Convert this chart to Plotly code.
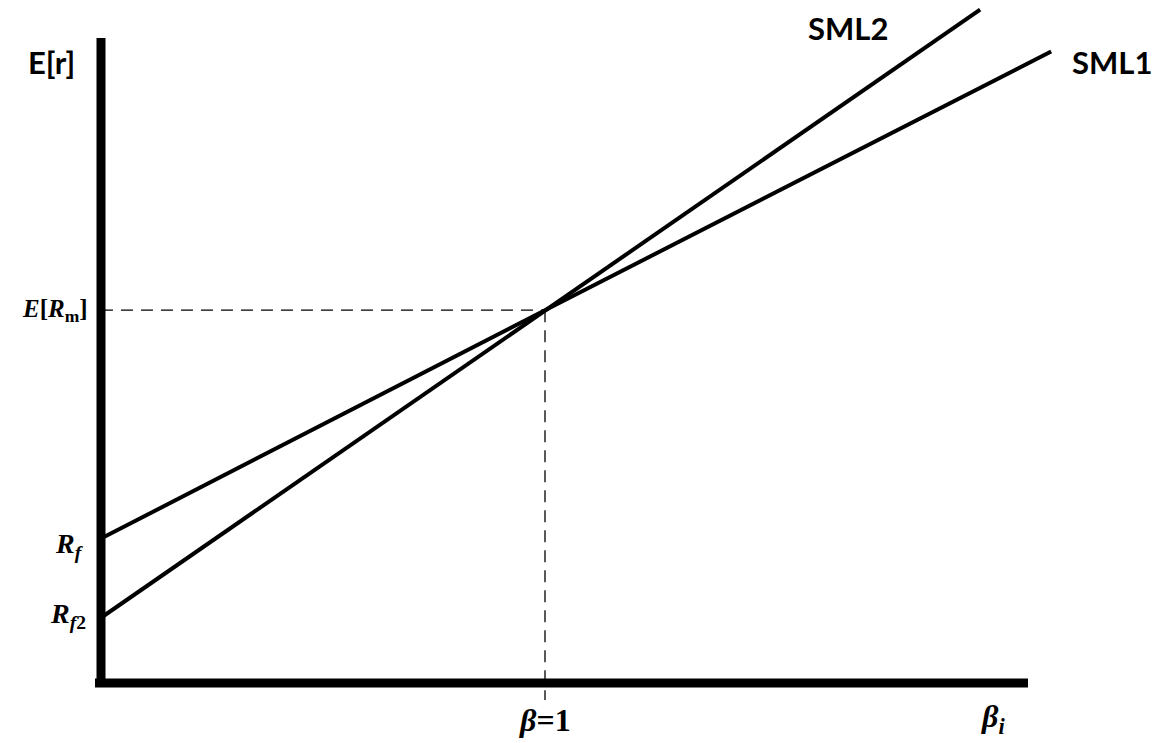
import plotly.graph_objects as go

# Data (beta, expected return)
sml1_beta = [0.0, 1.0, 2.14]
sml1_er = [3.1, 8.0, 13.55]
sml2_beta = [0.0, 1.0, 1.98]
sml2_er = [1.4, 8.0, 14.45]
beta_m = 1.0
er_m = 8.0
rf1 = 3.1
rf2 = 1.4

# page body has an 8px margin; the figure is placed at (8, 8)
OFF = 8
W, H = 1168 - OFF, 743 - OFF
x0px, pxx = 101 - OFF, 444.0
y0px, pxy = 683 - OFF, 46.6
xr = [-x0px / pxx, (W - x0px) / pxx]
yr = [-(H - y0px) / pxy, y0px / pxy]

def bx(px):
    return (px - OFF - x0px) / pxx

def by(py):
    return (y0px - (py - OFF)) / pxy

fig = go.Figure()

# dashed guides
fig.add_trace(go.Scatter(x=[0, beta_m], y=[er_m, er_m], mode="lines",
                         line=dict(color="black", width=1.3, dash="12px,8px"),
                         hoverinfo="skip", showlegend=False))
fig.add_trace(go.Scatter(x=[beta_m, beta_m], y=[er_m, by(700)], mode="lines",
                         line=dict(color="black", width=1.3, dash="12px,8px"),
                         hoverinfo="skip", showlegend=False))

# SML lines
fig.add_trace(go.Scatter(x=sml1_beta, y=sml1_er, mode="lines",
                         line=dict(color="black", width=4),
                         hoverinfo="skip", showlegend=False))
fig.add_trace(go.Scatter(x=sml2_beta, y=sml2_er, mode="lines",
                         line=dict(color="black", width=4),
                         hoverinfo="skip", showlegend=False))

# axis bars
fig.add_shape(type="line", x0=0, x1=0, y0=0, y1=by(38),
              line=dict(color="black", width=9))
fig.add_shape(type="line", x0=bx(95), x1=bx(1028), y0=0, y1=0,
              line=dict(color="black", width=9))

serif = "Liberation Serif"
sans = "Lato"

def ann(x, y, text, font, size, xanchor="center"):
    fig.add_annotation(x=x, y=y, text=text, showarrow=False, xanchor=xanchor,
                       yanchor="middle", font=dict(family=font, size=size, color="black"))

ann(bx(26), by(62), "<b>E[r]</b>", sans, 31, "left")
ann(bx(806), by(28), "<b>SML2</b>", sans, 31, "left")
ann(bx(1070), by(62), "<b>SML1</b>", sans, 31, "left")

ann(bx(90), er_m, "<b><i>E</i>[<i>R</i><sub>m</sub>]</b>", serif, 25, "right")
ann(bx(86), rf1 - 0.15, "<b><i>R</i><sub><i>f</i></sub></b>", serif, 28, "right")
ann(bx(88), rf2 + 0.05, "<b><i>R</i><sub><i>f</i>2</sub></b>", serif, 28, "right")
ann(beta_m, by(720), "<b><i>β</i>=1</b>", serif, 32, "center")
ann(bx(993), by(718), "<b><i>β</i><sub><i>i</i></sub></b>", serif, 32, "center")

fig.update_layout(
    width=W, height=H,
    margin=dict(l=0, r=0, t=0, b=0),
    font=dict(family=sans, size=24, color="black"),
    paper_bgcolor="white", plot_bgcolor="white",
    xaxis=dict(range=xr, visible=False, fixedrange=True),
    yaxis=dict(range=yr, visible=False, fixedrange=True),
)

fig.write_html("out.html")
